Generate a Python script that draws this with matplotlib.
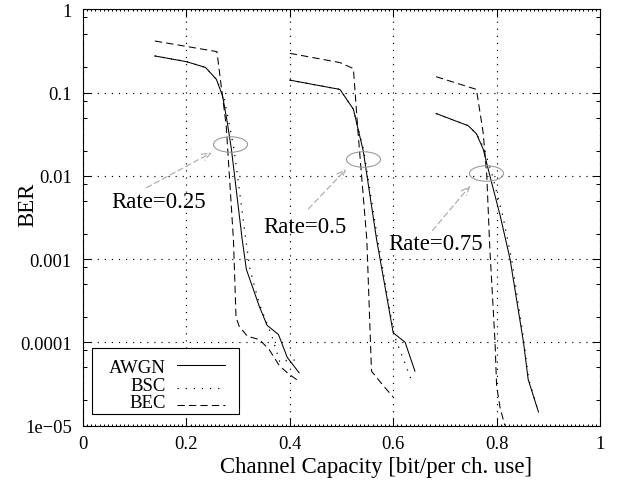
import matplotlib
matplotlib.use('Agg')
import matplotlib.pyplot as plt
from matplotlib.path import Path
from matplotlib.patches import Rectangle
from matplotlib.ticker import LogLocator, MultipleLocator, NullFormatter

plt.rcParams['font.family'] = ['Liberation Serif', 'DejaVu Serif']

# ---- data ----
# rate 0.25
awgn_25_x = [0.139, 0.200, 0.237, 0.258, 0.270, 0.279, 0.287, 0.308, 0.316, 0.341, 0.356, 0.378, 0.395, 0.418]
awgn_25_y = [0.275, 0.235, 0.200, 0.144, 0.091, 0.044, 0.021, 0.0017, 7.5e-4, 2.7e-4, 1.6e-4, 1.24e-4, 6.6e-5, 4.3e-5]
bsc_25_x = [0.139, 0.200, 0.237, 0.258, 0.272, 0.282, 0.292, 0.315, 0.323, 0.341, 0.365, 0.381, 0.400, 0.420]
bsc_25_y = [0.275, 0.235, 0.200, 0.144, 0.090, 0.045, 0.021, 0.0017, 7.5e-4, 2.9e-4, 1.2e-4, 5.7e-5, 6.2e-5, 6.0e-5]
bec_25_x = [0.139, 0.259, 0.277, 0.291, 0.296, 0.302, 0.318, 0.341, 0.360, 0.380, 0.399, 0.418]
bec_25_y = [0.416, 0.310, 0.040, 0.0017, 2.0e-4, 1.56e-4, 1.18e-4, 1.08e-4, 8.2e-5, 5.2e-5, 4.1e-5, 3.4e-5]

# rate 0.5
awgn_50_x = [0.400, 0.497, 0.523, 0.542, 0.568, 0.600, 0.623, 0.642]
awgn_50_y = [0.141, 0.109, 0.063, 0.020, 0.0017, 1.3e-4, 1.0e-4, 4.5e-5]
bsc_50_x = [0.400, 0.497, 0.523, 0.543, 0.570, 0.602, 0.637]
bsc_50_y = [0.141, 0.109, 0.063, 0.020, 0.0017, 1.2e-4, 3.3e-5]
bec_50_x = [0.400, 0.497, 0.523, 0.532, 0.549, 0.558, 0.581, 0.600]
bec_50_y = [0.296, 0.229, 0.194, 0.033, 0.0017, 4.5e-5, 3.0e-5, 2.2e-5]

# rate 0.75
awgn_75_x = [0.683, 0.723, 0.745, 0.761, 0.774, 0.787, 0.807, 0.826, 0.852, 0.861, 0.881]
awgn_75_y = [0.056, 0.045, 0.040, 0.032, 0.021, 0.010, 0.0033, 0.001, 1.0e-4, 3.6e-5, 1.45e-5]
bsc_75_x = [0.683, 0.723, 0.745, 0.761, 0.776, 0.792, 0.812, 0.829, 0.853, 0.862, 0.881]
bsc_75_y = [0.056, 0.045, 0.040, 0.032, 0.021, 0.010, 0.0033, 0.001, 1.0e-4, 3.6e-5, 1.45e-5]
bec_75_x = [0.683, 0.761, 0.774, 0.781, 0.787, 0.797, 0.800, 0.807, 0.816]
bec_75_y = [0.155, 0.109, 0.033, 0.010, 0.0013, 1.0e-4, 3.0e-5, 1.6e-5, 1.0e-5]

# annotations: ellipse centres, arrow start/end, label anchor
rate_labels = ['Rate=0.25', 'Rate=0.5', 'Rate=0.75']
ell_x = [0.285, 0.542, 0.779]
ell_y = [0.024, 0.0161, 0.0107]
arrow_from = [(0.123, 0.0072), (0.436, 0.0040), (0.676, 0.0022)]
arrow_to = [(0.249, 0.019), (0.509, 0.012), (0.749, 0.0076)]
label_pos = [(0.0555, 0.0042), (0.348, 0.0021), (0.5905, 0.00132)]

x_ticks = [0, 0.2, 0.4, 0.6, 0.8, 1]
x_tick_labels = ['0', '0.2', '0.4', '0.6', '0.8', '1']
y_ticks = [1e-5, 1e-4, 1e-3, 1e-2, 1e-1, 1]
y_tick_labels = ['1e\u221205', '0.0001', '0.001', '0.01', '0.1', '1']

legend_names = ['AWGN', 'BSC', 'BEC']

# ---- styles ----
solid = '-'
dotted = (0, (1, 5.5))
dashed = (0, (7, 4))
lw = 0.75
lw_dot = 0.9

fig = plt.figure(figsize=(6.18, 4.89), dpi=100)
ax = fig.add_axes([83 / 618, (489 - 426.5) / 489, 517 / 618, 416.2 / 489])

ax.plot(awgn_25_x, awgn_25_y, color='black', ls=solid, lw=lw)
ax.plot(bsc_25_x, bsc_25_y, color='black', ls=dotted, lw=lw_dot)
ax.plot(bec_25_x, bec_25_y, color='black', ls=dashed, lw=lw)
ax.plot(awgn_50_x, awgn_50_y, color='black', ls=solid, lw=lw)
ax.plot(bsc_50_x, bsc_50_y, color='black', ls=dotted, lw=lw_dot)
ax.plot(bec_50_x, bec_50_y, color='black', ls=dashed, lw=lw)
ax.plot(awgn_75_x, awgn_75_y, color='black', ls=solid, lw=lw)
ax.plot(bsc_75_x, bsc_75_y, color='black', ls=dotted, lw=lw_dot)
ax.plot(bec_75_x, bec_75_y, color='black', ls=dashed, lw=lw)

# ellipse marker (fixed pixel size, not distorted by log axis)
ell_path = Path.unit_circle().transformed(matplotlib.transforms.Affine2D().scale(1.0, 0.456))
ax.plot(ell_x, ell_y, ls='none', marker=ell_path, ms=24.5, mfc='none',
        mec='#9a9a9a', mew=0.8)

for lab, a0, a1, pos in zip(rate_labels, arrow_from, arrow_to, label_pos):
    ax.annotate('', xy=a1, xytext=a0,
                arrowprops=dict(arrowstyle='->,head_length=0.6,head_width=0.25',
                                color='#a8a8a8', lw=0.8, linestyle=(0, (5, 3)),
                                shrinkA=0, shrinkB=0))
    ax.text(pos[0], pos[1], lab, fontsize=16.4, ha='left', va='baseline')

ax.set_yscale('log')
ax.set_xlim(0, 1)
ax.set_ylim(1e-5, 1)
ax.set_xticks(x_ticks)
ax.set_xticklabels(x_tick_labels)
ax.set_yticks(y_ticks)
ax.set_yticklabels(y_tick_labels)
ax.yaxis.set_minor_locator(LogLocator(base=10, subs=(2.0, 5.0, 8.0)))
ax.yaxis.set_minor_formatter(NullFormatter())
ax.xaxis.set_minor_locator(MultipleLocator(0.008))

ax.tick_params(which='both', direction='in', top=True, right=True,
               labelsize=13.4, width=0.75, color='black')
ax.tick_params(which='major', length=5.8)
ax.tick_params(axis='y', which='minor', length=2.9)
ax.tick_params(axis='x', which='minor', length=1.6)
ax.tick_params(axis='x', which='major', pad=7)
ax.tick_params(axis='y', which='major', pad=8)
for s in ax.spines.values():
    s.set_linewidth(0.8)

ax.grid(True, which='major', color='black', linestyle=(0, (1, 5)), linewidth=0.85)

ax.set_xlabel('Channel Capacity [bit/per ch. use]', fontsize=16.4)
ax.xaxis.set_label_coords(0.5677, -0.0997)
ax.xaxis.label.set_va('center')
ax.set_ylabel('BER', fontsize=16.4)
ax.yaxis.set_label_coords(-0.106, 0.532)
ax.yaxis.label.set_va('center')
ax.yaxis.label.set_ha('center')

# gnuplot style key: right aligned names, sample line on the right
ax.add_patch(Rectangle((0.0168, 0.0276), 0.2849, 0.1586, transform=ax.transAxes,
                       fc='white', ec='black', lw=0.8, zorder=5))
text_y = [0.1285, 0.0845, 0.044]
line_y = [0.1463, 0.0890, 0.0490]
for name, ty, ly, ls, w in zip(legend_names, text_y, line_y,
                               [solid, dotted, dashed], [lw, lw_dot, lw]):
    ax.text(0.1605, ty, name, fontsize=13.5, ha='right', va='baseline',
            transform=ax.transAxes, zorder=6)
    ax.plot([0.1812, 0.2747], [ly, ly], color='black', ls=ls, lw=w,
            transform=ax.transAxes, zorder=6)

fig.savefig('out.png', dpi=100)
